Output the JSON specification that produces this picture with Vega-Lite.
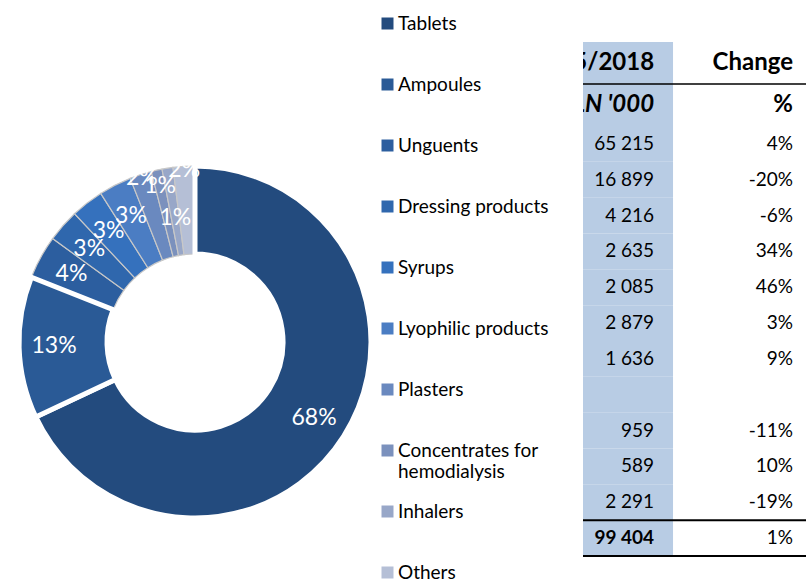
{
  "$schema": "https://vega.github.io/schema/vega-lite/v6.json",
  "background": "white",
  "padding": 0,
  "config": {
    "view": {"stroke": null},
    "font": "Lato",
    "locale": {"number": {"decimal": ",", "thousands": " ", "grouping": [3], "currency": ["", " zł"], "minus": "-"}}
  },
  "datasets": {
    "shares": [
      {"n": 3, "category": "Unguents", "share": 0.04},
      {"n": 4, "category": "Dressing products", "share": 0.03},
      {"n": 5, "category": "Syrups", "share": 0.03},
      {"n": 6, "category": "Lyophilic products", "share": 0.03},
      {"n": 7, "category": "Plasters", "share": 0.02},
      {"n": 8, "category": "Concentrates for hemodialysis", "share": 0.01},
      {"n": 9, "category": "Inhalers", "share": 0.01},
      {"n": 10, "category": "Others", "share": 0.02},
      {"n": 1, "category": "Tablets", "share": 0.68},
      {"n": 2, "category": "Ampoules", "share": 0.13}
    ],
    "head": [
      {"row": "h1", "amt": "01-05/2018", "chg": "Change"},
      {"row": "h2", "amt": "PLN '000", "chg": "%"}
    ],
    "body": [
      {"row": 1, "amt": 65215, "chg": 0.04, "total": false},
      {"row": 2, "amt": 16899, "chg": -0.20, "total": false},
      {"row": 3, "amt": 4216, "chg": -0.06, "total": false},
      {"row": 4, "amt": 2635, "chg": 0.34, "total": false},
      {"row": 5, "amt": 2085, "chg": 0.46, "total": false},
      {"row": 6, "amt": 2879, "chg": 0.03, "total": false},
      {"row": 7, "amt": 1636, "chg": 0.09, "total": false},
      {"row": 8, "amt": null, "chg": null, "total": false},
      {"row": 9, "amt": 959, "chg": -0.11, "total": false},
      {"row": 10, "amt": 589, "chg": 0.10, "total": false},
      {"row": 11, "amt": 2291, "chg": -0.19, "total": false},
      {"row": 12, "amt": 99404, "chg": 0.01, "total": true}
    ]
  },
  "spacing": 192,
  "hconcat": [
    {
      "spacing": 0,
      "vconcat": [
        {
          "width": 390,
          "height": 102,
          "data": {"values": []},
          "mark": {"type": "point"},
          "encoding": {}
        },
        {
          "width": 390,
          "height": 480,
          "data": {"name": "shares"},
          "encoding": {
            "theta": {"field": "share", "type": "quantitative", "stack": true},
            "order": {"field": "n", "type": "quantitative"}
          },
          "layer": [
            {
              "mark": {"type": "arc", "outerRadius": 176, "innerRadius": 88},
              "encoding": {
                "color": {
                  "field": "category",
                  "type": "nominal",
                  "scale": {
                    "domain": ["Tablets", "Ampoules", "Unguents", "Dressing products", "Syrups", "Lyophilic products", "Plasters", "Concentrates for hemodialysis", "Inhalers", "Others"],
                    "range": ["#234b7e", "#2a5a96", "#2c5e9f", "#2f67ad", "#3571bd", "#4b7dc3", "#6a89bf", "#7b91bd", "#98a7c8", "#b5bfd6"]
                  },
                  "legend": {
                    "orient": "none",
                    "legendX": 378,
                    "legendY": 14,
                    "title": null,
                    "symbolType": "square",
                    "symbolSize": 144,
                    "symbolStrokeWidth": 0,
                    "labelFont": "Lato",
                    "labelFontSize": 19,
                    "labelColor": "#000000",
                    "labelOffset": 1,
                    "gridAlign": "all",
                    "rowPadding": 20,
                    "labelLimit": 260,
                    "labelExpr": "datum.label == 'Concentrates for hemodialysis' ? ['Concentrates for', 'hemodialysis'] : datum.label"
                  }
                },
                "stroke": {"condition": {"test": "datum.category == 'Tablets' || datum.category == 'Ampoules'", "value": "#ffffff"}, "value": "#c8c8c8"},
                "strokeWidth": {"condition": {"test": "datum.category == 'Tablets' || datum.category == 'Ampoules'", "value": 5}, "value": 1.2}
              }
            },
            {
              "mark": {"type": "text", "radius": 141, "fontSize": 23, "fill": "#ffffff"},
              "encoding": {
                "detail": {"field": "category", "type": "nominal"},
                "text": {"condition": {"test": "indexof(['Plasters', 'Concentrates for hemodialysis', 'Inhalers', 'Others'], datum.category) < 0", "field": "share", "type": "quantitative", "format": ".0%"}, "value": ""}
              }
            },
            {
              "mark": {"type": "text", "radius": 172, "fontSize": 23, "fill": "#ffffff"},
              "encoding": {
                "detail": {"field": "category", "type": "nominal"},
                "text": {"condition": {"test": "datum.category == 'Plasters' || datum.category == 'Others'", "field": "share", "type": "quantitative", "format": ".0%"}, "value": ""}
              }
            },
            {
              "mark": {"type": "text", "radius": 160, "fontSize": 23, "fill": "#ffffff"},
              "encoding": {
                "detail": {"field": "category", "type": "nominal"},
                "text": {"condition": {"test": "datum.category == 'Concentrates for hemodialysis'", "field": "share", "type": "quantitative", "format": ".0%"}, "value": ""}
              }
            },
            {
              "mark": {"type": "text", "radius": 126, "fontSize": 23, "fill": "#ffffff"},
              "encoding": {
                "detail": {"field": "category", "type": "nominal"},
                "text": {"condition": {"test": "datum.category == 'Inhalers'", "field": "share", "type": "quantitative", "format": ".0%"}, "value": ""}
              }
            }
          ]
        }
      ]
    },
    {
      "spacing": 0,
      "vconcat": [
        {
          "width": 224,
          "height": 126,
          "data": {"name": "head"},
          "encoding": {
            "y": {"field": "row", "type": "nominal", "scale": {"domain": ["top", "h1", "h2"], "paddingInner": 0, "paddingOuter": 0}, "axis": null}
          },
          "layer": [
            {
              "mark": {"type": "rect", "color": "#b8cce4"},
              "encoding": {"x": {"datum": "amt", "type": "nominal", "scale": {"domain": ["amt", "chg"], "paddingInner": 0.328, "paddingOuter": 0}, "axis": null}}
            },
            {
              "transform": [{"filter": "datum.row == 'h1'"}],
              "mark": {"type": "text", "align": "right", "baseline": "middle", "fontSize": 24, "fontWeight": "bold", "clip": true, "color": "#000000"},
              "encoding": {"x": {"datum": "amt", "type": "nominal", "bandPosition": 0.79}, "text": {"field": "amt"}}
            },
            {
              "transform": [{"filter": "datum.row == 'h2'"}],
              "mark": {"type": "text", "align": "right", "baseline": "middle", "fontSize": 24, "fontWeight": "bold", "fontStyle": "italic", "clip": true, "color": "#000000"},
              "encoding": {"x": {"datum": "amt", "type": "nominal", "bandPosition": 0.79}, "text": {"field": "amt"}}
            },
            {
              "mark": {"type": "text", "align": "right", "baseline": "middle", "fontSize": 24, "fontWeight": "bold", "color": "#000000"},
              "encoding": {"x": {"datum": "chg", "type": "nominal", "bandPosition": 0.844}, "text": {"field": "chg"}}
            },
            {
              "transform": [{"filter": "datum.row == 'h1'"}],
              "mark": {"type": "rule", "color": "#000000", "strokeWidth": 1.5},
              "encoding": {"y": {"field": "row", "type": "nominal", "bandPosition": 1}}
            }
          ]
        },
        {
          "width": 224,
          "height": 430,
          "data": {"name": "body"},
          "encoding": {
            "y": {"field": "row", "type": "ordinal", "scale": {"paddingInner": 0, "paddingOuter": 0}, "axis": null}
          },
          "layer": [
            {
              "mark": {"type": "rect", "color": "#b8cce4"},
              "encoding": {"x": {"datum": "amt", "type": "nominal", "scale": {"domain": ["amt", "chg"], "paddingInner": 0.328, "paddingOuter": 0}, "axis": null}}
            },
            {
              "transform": [{"filter": "isValid(datum.amt) && !datum.total"}],
              "mark": {"type": "text", "align": "right", "baseline": "middle", "fontSize": 19, "color": "#000000"},
              "encoding": {"x": {"datum": "amt", "type": "nominal", "bandPosition": 0.79}, "text": {"field": "amt", "type": "quantitative", "format": ",d"}}
            },
            {
              "transform": [{"filter": "datum.total"}],
              "mark": {"type": "text", "align": "right", "baseline": "middle", "fontSize": 19, "fontWeight": "bold", "color": "#000000"},
              "encoding": {"x": {"datum": "amt", "type": "nominal", "bandPosition": 0.79}, "text": {"field": "amt", "type": "quantitative", "format": ",d"}}
            },
            {
              "transform": [{"filter": "isValid(datum.chg)"}],
              "mark": {"type": "text", "align": "right", "baseline": "middle", "fontSize": 19, "color": "#000000"},
              "encoding": {"x": {"datum": "chg", "type": "nominal", "bandPosition": 0.844}, "text": {"field": "chg", "type": "quantitative", "format": ".0%"}}
            },
            {
              "transform": [{"filter": "datum.total"}],
              "mark": {"type": "rule", "color": "#000000", "strokeWidth": 2},
              "encoding": {"y": {"field": "row", "type": "ordinal", "bandPosition": 0}}
            },
            {
              "transform": [{"filter": "datum.total"}],
              "mark": {"type": "rule", "color": "#000000", "strokeWidth": 2},
              "encoding": {"y": {"field": "row", "type": "ordinal", "bandPosition": 1}}
            }
          ]
        }
      ]
    }
  ]
}
